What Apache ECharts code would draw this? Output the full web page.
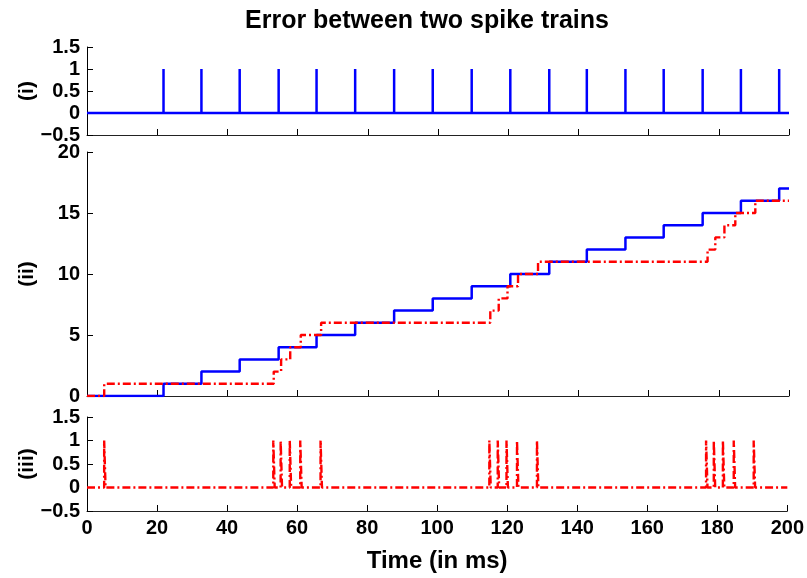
<!DOCTYPE html>
<html>
<head>
<meta charset="utf-8">
<script src="https://cdn.jsdelivr.net/npm/echarts@6/dist/echarts.min.js"></script>
<style>
html,body{margin:0;padding:0;background:#fff;}
#c{width:807px;height:578px;}
</style>
</head>
<body>
<div id="c"></div>
<script>
// ---- data ----
const titleText = 'Error between two spike trains';
const xLabel = 'Time (in ms)';
const panelLabels = ['(i)', '(ii)', '(iii)'];
// blue spike train times (ms)
const blueSpikes = [21.8, 32.6, 43.5, 54.6, 65.4, 76.4, 87.5, 98.5, 109.6, 120.6, 131.7, 142.4, 153.4, 164.3, 175.4, 186.3, 197.2];
// red spike train times (ms)
const redSpikes = [4.9, 53.2, 55.3, 57.9, 60.9, 66.7, 114.9, 117.3, 119.8, 122.8, 128.5, 176.8, 179.0, 181.6, 184.7, 190.4];
const spikeHeight = 1;
const pulseWidth = 0.4; // ms, width of each error pulse in panel (iii)
const tEnd = 200;

// ---- build series data from the arrays ----
function impulses(times) {
  const d = [[0, 0]];
  times.forEach(t => { d.push([t, 0], [t, spikeHeight], [t, 0]); });
  d.push([tEnd, 0]);
  return d;
}
function pulses(times) {
  const d = [[0, 0]];
  times.forEach(t => { d.push([t, 0], [t, spikeHeight], [t + pulseWidth, spikeHeight], [t + pulseWidth, 0]); });
  d.push([tEnd, 0]);
  return d;
}
function cumulative(times) {
  const d = [[0, 0]];
  times.forEach((t, i) => d.push([t, i + 1]));
  d.push([tEnd, times.length]);
  return d;
}

const font = 'Liberation Sans, Arial, Helvetica, sans-serif';
const minusFmt = v => (v < 0 ? '\u2212' + Math.abs(v) : String(v));

const grids = [
  {left: 87, width: 702, top: 47, height: 88},
  {left: 87, width: 702, top: 152, height: 244},
  {left: 87, width: 702, top: 417, height: 94}
];

function xAx(i, showLabels) {
  const ax = {
    type: 'value', gridIndex: i, min: 0, max: 200, interval: 20,
    axisLine: {show: true, onZero: false, lineStyle: {color: '#222', width: 1}},
    axisTick: {show: true, inside: true, length: 6, lineStyle: {color: '#000'}},
    axisLabel: {show: showLabels, color: '#000', fontFamily: font, fontWeight: 'bold', fontSize: 20, margin: 7},
    splitLine: {show: false}
  };
  if (showLabels) {
    ax.name = xLabel;
    ax.nameLocation = 'middle';
    ax.nameGap = 38;
    ax.nameMoveOverlap = false;
    ax.nameTextStyle = {color: '#000', fontFamily: font, fontWeight: 'bold', fontSize: 24};
  }
  return ax;
}
function yAx(i, min, max, interval, name) {
  return {
    type: 'value', gridIndex: i, min: min, max: max, interval: interval,
    name: name, nameLocation: 'middle', nameRotate: 90, nameGap: 49, nameMoveOverlap: false,
    nameTextStyle: {color: '#000', fontFamily: font, fontWeight: 'bold', fontSize: 21},
    axisLine: {show: true, onZero: false, lineStyle: {color: '#000', width: 1}},
    axisTick: {show: true, inside: true, length: 6, lineStyle: {color: '#000'}},
    axisLabel: {color: '#000', fontFamily: font, fontWeight: 'bold', fontSize: 20, margin: 7, formatter: minusFmt},
    splitLine: {show: false}
  };
}

const redDash = [8, 3, 2, 3];

const option = {
  animation: false,
  backgroundColor: '#fff',
  title: {
    text: titleText, left: 422, top: 4, textAlign: 'center',
    textStyle: {color: '#000', fontFamily: font, fontWeight: 'bold', fontSize: 25}
  },
  grid: grids,
  xAxis: [xAx(0, false), xAx(1, false), xAx(2, true)],
  yAxis: [
    yAx(0, -0.5, 1.5, 0.5, panelLabels[0]),
    yAx(1, 0, 20, 5, panelLabels[1]),
    yAx(2, -0.5, 1.5, 0.5, panelLabels[2])
  ],
  series: [
    {type: 'line', xAxisIndex: 0, yAxisIndex: 0, data: impulses(blueSpikes), showSymbol: false, symbol: 'none',
     lineStyle: {color: '#0000ff', width: 2.5}},
    {type: 'line', xAxisIndex: 1, yAxisIndex: 1, data: cumulative(blueSpikes), step: 'end', showSymbol: false, symbol: 'none',
     lineStyle: {color: '#0000ff', width: 2.5}},
    {type: 'line', xAxisIndex: 1, yAxisIndex: 1, data: cumulative(redSpikes), step: 'end', showSymbol: false, symbol: 'none',
     lineStyle: {color: '#ff0000', width: 2.4, type: redDash}},
    {type: 'line', xAxisIndex: 2, yAxisIndex: 2, data: pulses(redSpikes), showSymbol: false, symbol: 'none',
     lineStyle: {color: '#ff0000', width: 2.4, type: redDash}}
  ]
};
const chart = echarts.init(document.getElementById('c'), null, {renderer: 'canvas'});
chart.setOption(option);
</script>
</body>
</html>
